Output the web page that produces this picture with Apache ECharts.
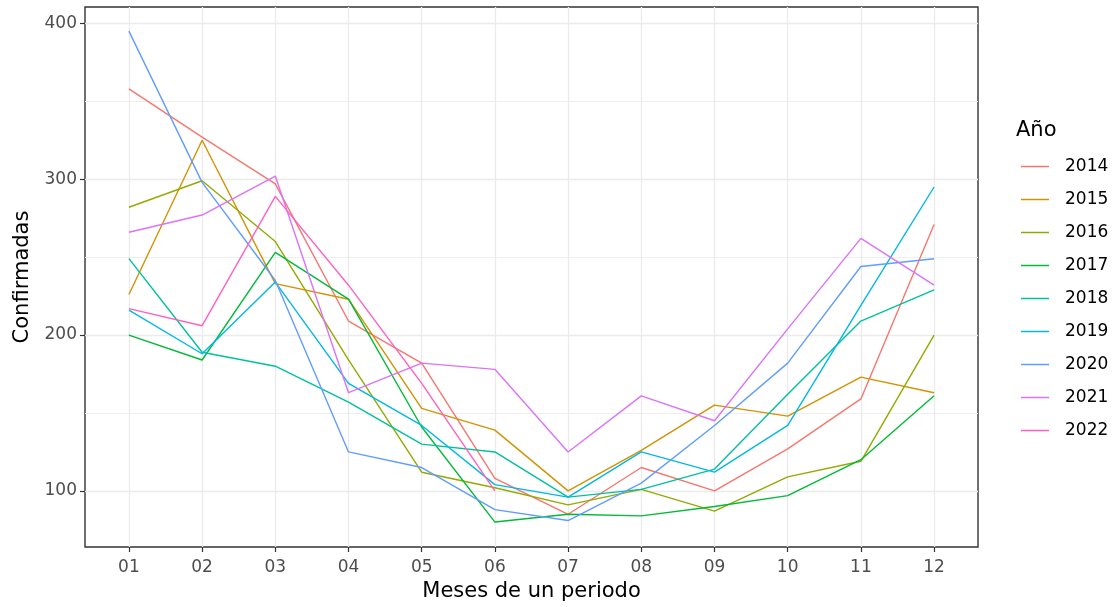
<!DOCTYPE html>
<html>
<head>
<meta charset="utf-8">
<script src="https://cdn.jsdelivr.net/npm/echarts@6/dist/echarts.min.js"></script>
<style>html,body{margin:0;padding:0;background:#fff;}#c{width:1114px;height:607px;}</style>
</head>
<body>
<div id="c"></div>
<script>
const months = ['01','02','03','04','05','06','07','08','09','10','11','12'];
const years = ['2014','2015','2016','2017','2018','2019','2020','2021','2022'];
const v2014 = [358, 327, 297, 209, 182, 108, 85, 115, 100, 127, 159, 271];
const v2015 = [226, 325, 233, 223, 153, 139, 100, 126, 155, 148, 173, 163];
const v2016 = [282, 299, 260, 184, 112, 102, 91, 101, 87, 109, 119, 200];
const v2017 = [200, 184, 253, 223, 141, 80, 85, 84, 90, 97, 120, 161];
const v2018 = [249, 189, 180, 157, 130, 125, 96, 101, 114, 162, 209, 229];
const v2019 = [216, 188, 234, 169, 142, 104, 96, 125, 112, 142, 219, 295];
const v2020 = [395, 298, 235, 125, 115, 88, 81, 105, 142, 182, 244, 249];
const v2021 = [266, 277, 302, 163, 182, 178, 125, 161, 145, 204, 262, 232];
const v2022 = [217, 206, 289, 232, 169, 100];
const yTicks = [100, 200, 300, 400];
const yMinorTicks = [150, 250, 350];
const colors = ['#F8766D','#D39200','#93AA00','#00BA38','#00C19F','#00B9E3','#619CFF','#DB72FB','#FF61C3'];
const seriesValues = [v2014, v2015, v2016, v2017, v2018, v2019, v2020, v2021, v2022];

const FONT = 'DejaVu Sans';
const chart = echarts.init(document.getElementById('c'), null, {renderer: 'canvas'});
const monthNums = months.map((m, i) => i + 1);

const option = {
  animation: false,
  backgroundColor: '#fff',
  color: colors,
  title: {
    text: 'Año', left: 1011, top: 115,
    textStyle: {fontFamily: FONT, fontSize: 21, fontWeight: 'normal', color: '#000'}
  },
  legend: {
    orient: 'vertical', left: 1016, top: 151,
    icon: 'rect', itemWidth: 28, itemHeight: 1.5, itemGap: 12,
    data: years,
    textStyle: {fontFamily: FONT, fontSize: 17, color: '#000', lineHeight: 21, padding: [0, 0, 0, 11]}
  },
  grid: {
    left: 85, right: 136, top: 7, bottom: 55,
    show: true, borderColor: '#333333', borderWidth: 1.4, backgroundColor: 'transparent'
  },
  xAxis: {
    type: 'value', min: 0.4, max: 12.6,
    name: 'Meses de un periodo', nameLocation: 'middle', nameGap: 34,
    nameTextStyle: {fontFamily: FONT, fontSize: 21, color: '#000'},
    axisLine: {show: false},
    axisTick: {show: true, length: 5, customValues: monthNums, lineStyle: {color: '#333333', width: 1.2}},
    axisLabel: {customValues: monthNums, margin: 12, fontFamily: FONT, fontSize: 17, color: '#4D4D4D',
      formatter: v => months[Math.round(v) - 1]},
    splitLine: {show: true, lineStyle: {color: '#EBEBEB', width: 1.3}}
  },
  yAxis: [{
    type: 'value', min: 64, max: 410.5,
    name: 'Confirmadas', nameLocation: 'middle', nameGap: 52, nameRotate: 90,
    nameTextStyle: {fontFamily: FONT, fontSize: 21, color: '#000'},
    axisLine: {show: false},
    axisTick: {show: true, length: 5, customValues: yTicks, lineStyle: {color: '#333333', width: 1.2}},
    axisLabel: {customValues: yTicks, margin: 8, fontFamily: FONT, fontSize: 17, color: '#4D4D4D'},
    splitLine: {show: true, lineStyle: {color: '#EBEBEB', width: 1.3}}
  }, {
    type: 'value', min: 64, max: 410.5, position: 'left',
    axisLine: {show: false},
    axisTick: {show: false, customValues: yMinorTicks},
    axisLabel: {show: false, customValues: yMinorTicks},
    splitLine: {show: true, lineStyle: {color: '#EEEEEE', width: 1}}
  }],
  series: seriesValues.map((vals, i) => ({
    name: years[i], type: 'line', yAxisIndex: 0,
    data: vals.map((v, j) => [monthNums[j], v]),
    showSymbol: false, symbol: 'none',
    lineStyle: {width: 1.4, color: colors[i]},
    itemStyle: {color: colors[i]},
    emphasis: {disabled: true}
  }))
};
chart.setOption(option);
</script>
</body>
</html>
